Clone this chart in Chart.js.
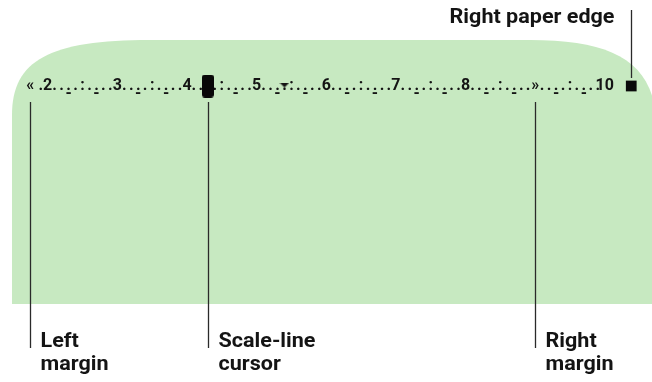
<!DOCTYPE html>
<html>
<head>
<meta charset="utf-8">
<script src="https://cdn.jsdelivr.net/npm/chart.js@4.4.1/dist/chart.umd.min.js"></script>
<style>
  html, body { margin: 0; padding: 0; background: #fff; }
  canvas { display: block; }
</style>
</head>
<body>
<canvas id="chart" width="652" height="382"></canvas>
<script>
// scale line, positions in inches
const rulerNumbers = [2, 3, 4, 5, 6, 7, 8, 10];
const tenthMarks = ['.', '.', ['.', '-'], '.', ':', '.', ['.', '-'], '.', '.']; // .1 to .9
const leftMargin = 1.75;
const rightMargin = 9.0;
const cursorPos = 4.3;
const tabStops = [5.4];
const paperEdge = 10.38;

const calloutText = [['Left', 'margin'], ['Scale-line', 'cursor'], ['Right', 'margin']];
const calloutAt = [leftMargin, cursorPos, rightMargin];
const edgeText = 'Right paper edge';

const FONT = "Roboto, 'DejaVu Sans', sans-serif";
const INK = '#141414';
const RULER_Y = 82;

// build the tick list of the scale line
const rulerTicks = [{ value: leftMargin, label: '\u00ab' }];
for (let n = 1; n <= 10; n++) {
  if (n >= 2) {
    if (n === rightMargin) rulerTicks.push({ value: n, label: '\u00bb' });
    else if (rulerNumbers.includes(n)) rulerTicks.push({ value: n, label: String(n) });
  }
  if (n === 10) break;
  tenthMarks.forEach((mark, k) => {
    const v = Math.round((n + (k + 1) / 10) * 10) / 10;
    if (v - leftMargin < 0.1) return;
    rulerTicks.push({ value: v, label: mark });
  });
}

function makeCursor() {
  const c = document.createElement('canvas');
  c.width = 12; c.height = 23;
  const g = c.getContext('2d');
  g.fillStyle = '#080808';
  g.beginPath();
  g.roundRect(0, 0, 12, 23, 3);
  g.fill();
  return c;
}

function makeTab() {
  const c = document.createElement('canvas');
  c.width = 10; c.height = 5;
  const g = c.getContext('2d');
  g.fillStyle = INK;
  g.beginPath();
  g.moveTo(0, 0); g.lineTo(10, 0); g.lineTo(5, 5);
  g.closePath();
  g.fill();
  return c;
}

// narrow bold lettering, like the condensed face of the original
function narrowText(ctx, text, x, y, squeeze, align) {
  const w = ctx.measureText(text).width * squeeze;
  ctx.save();
  ctx.translate(align === 'right' ? x - w : x, y);
  ctx.scale(squeeze, 1);
  ctx.textAlign = 'left';
  ctx.fillText(text, 0, 0);
  ctx.restore();
}

const paperPlugin = {
  id: 'paper',
  beforeDraw(chart) {
    const ctx = chart.ctx;
    ctx.save();
    ctx.fillStyle = '#c7e9c1';
    ctx.beginPath();
    ctx.moveTo(12, 304);
    ctx.lineTo(12, 115);
    ctx.bezierCurveTo(12, 60, 50, 40, 150, 40);
    ctx.lineTo(530, 40);
    ctx.bezierCurveTo(610, 40, 650, 60, 656, 115);
    ctx.lineTo(656, 304);
    ctx.closePath();
    ctx.fill();
    ctx.restore();
  },
  afterDatasetsDraw(chart) {
    const ctx = chart.ctx;
    const x = chart.scales.x;
    ctx.save();
    ctx.strokeStyle = '#2a2a2a';
    ctx.lineWidth = 1.3;
    ctx.fillStyle = INK;
    ctx.font = 'bold 21px ' + FONT;
    ctx.textBaseline = 'alphabetic';
    const squeeze = 97 / ctx.measureText('Scale-line').width;

    calloutAt.forEach((v, i) => {
      const px = Math.round(x.getPixelForValue(v)) + 0.5;
      ctx.beginPath();
      ctx.moveTo(px, 102);
      ctx.lineTo(px, 348);
      ctx.stroke();
      calloutText[i].forEach((line, j) => narrowText(ctx, line, px + 10, 347 + j * 23, squeeze, 'left'));
    });

    const ex = Math.round(x.getPixelForValue(paperEdge)) + 0.5;
    ctx.beginPath();
    ctx.moveTo(ex, 10);
    ctx.lineTo(ex, 78);
    ctx.stroke();
    narrowText(ctx, edgeText, ex - 17, 23, squeeze, 'right');
    ctx.restore();
  }
};

new Chart(document.getElementById('chart'), {
  type: 'scatter',
  data: {
    datasets: [
      {
        label: 'Scale-line cursor',
        data: [{ x: cursorPos, y: 86 }],
        pointStyle: makeCursor(),
        pointRadius: 6
      },
      {
        label: 'Tab',
        data: tabStops.map(t => ({ x: t, y: 85 })),
        pointStyle: makeTab(),
        pointRadius: 5
      },
      {
        label: 'Right paper edge',
        data: [{ x: paperEdge, y: 86 }],
        pointStyle: 'rect',
        pointRadius: 7.6,
        backgroundColor: '#0a0a0a',
        borderWidth: 0
      }
    ]
  },
  options: {
    responsive: false,
    animation: false,
    devicePixelRatio: 1,
    layout: { padding: 0, autoPadding: false },
    plugins: { legend: { display: false }, tooltip: { enabled: false } },
    scales: {
      x: {
        type: 'linear',
        min: 1.315,
        max: 10.678,
        position: { y: RULER_Y },
        grid: { display: false, drawTicks: false },
        border: { display: false },
        afterBuildTicks: scale => {
          scale.ticks = rulerTicks.map(t => ({ value: t.value }));
        },
        ticks: {
          autoSkip: false,
          maxRotation: 0,
          minRotation: 0,
          padding: 0,
          color: INK,
          font: { family: FONT, size: 16, weight: 'bold', lineHeight: 0.48 },
          callback: (value, index) => rulerTicks[index].label
        }
      },
      y: {
        display: false,
        min: 0,
        max: 382,
        reverse: true
      }
    }
  },
  plugins: [paperPlugin]
});
</script>
</body>
</html>
